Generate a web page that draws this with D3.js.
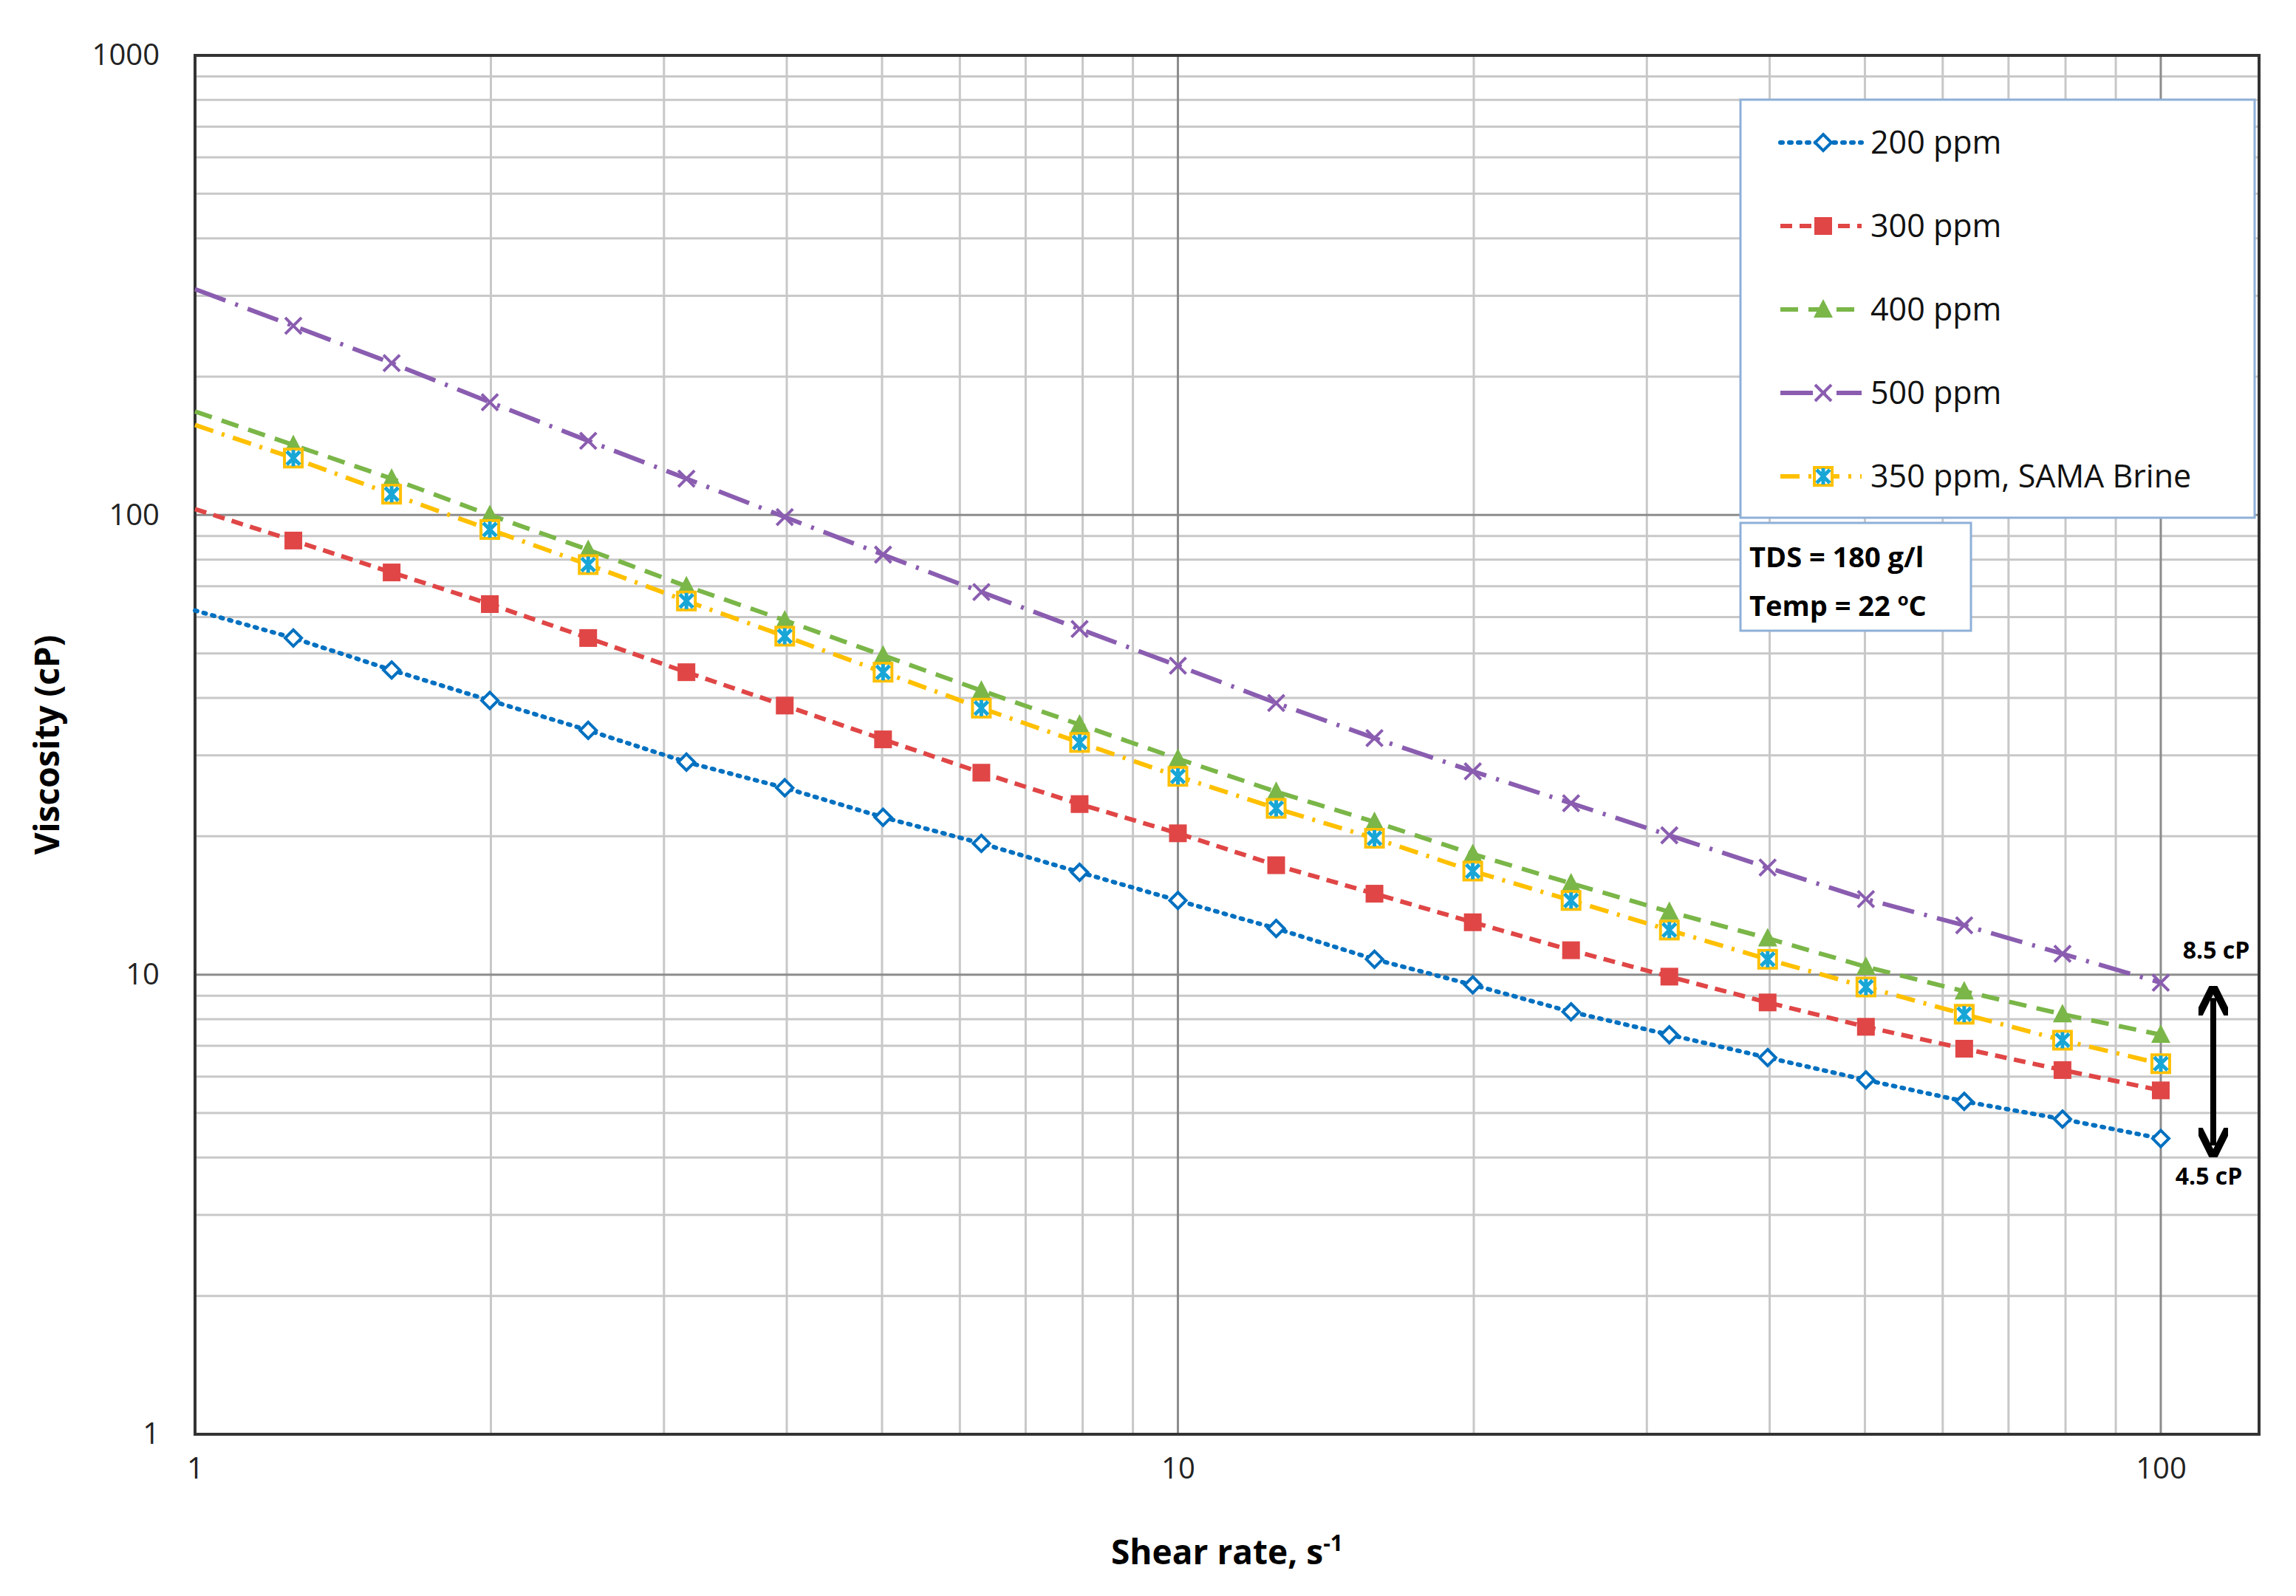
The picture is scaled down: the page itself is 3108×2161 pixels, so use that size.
<!DOCTYPE html>
<html><head><meta charset="utf-8">
<script src="https://cdn.jsdelivr.net/npm/d3@7.9.0/dist/d3.min.js"></script>
<style>body{margin:0;background:#fff}text{font-family:"Open Sans",sans-serif}</style>
</head><body><svg id="chart"></svg>
<script>
const shearRates = d3.range(0, 21).map(k => +Math.pow(10, k / 10).toFixed(3));
const ppm200 = [62, 54, 46, 39.5, 34, 29, 25.5, 22, 19.3, 16.7, 14.5, 12.6, 10.8, 9.5, 8.3, 7.4, 6.6, 5.9, 5.3, 4.85, 4.4];
const ppm300 = [103, 88, 75, 64, 54, 45.5, 38.5, 32.5, 27.5, 23.5, 20.3, 17.3, 15, 13, 11.3, 9.9, 8.7, 7.7, 6.9, 6.2, 5.6];
const ppm400 = [168, 142, 120, 100, 84, 70, 59, 49.5, 41.5, 35, 29.5, 25, 21.5, 18.3, 15.8, 13.7, 12, 10.4, 9.2, 8.2, 7.4];
const ppm500 = [310, 258, 214, 176, 145, 120, 99, 82, 68, 56.5, 47, 39, 32.7, 27.7, 23.6, 20.1, 17.1, 14.6, 12.8, 11.1, 9.6];
const ppm350 = [157, 133, 111, 93, 78, 65, 54.5, 45.5, 38, 32, 27, 23, 19.8, 16.8, 14.5, 12.5, 10.8, 9.4, 8.2, 7.2, 6.4];
const xTicks = [1, 10, 100];
const yTicks = [1, 10, 100, 1000];

const series = [
  {name: '200 ppm', values: ppm200, color: '#0070c0', dash: '3,9', cap: 'round', marker: 'diamond'},
  {name: '300 ppm', values: ppm300, color: '#e04646', dash: '16,10', cap: 'butt', marker: 'square'},
  {name: '400 ppm', values: ppm400, color: '#7ab648', dash: '24,14', cap: 'butt', marker: 'triangle'},
  {name: '500 ppm', values: ppm500, color: '#8a5db0', dash: '44,14,4,14', cap: 'butt', marker: 'x'},
  {name: '350 ppm, SAMA Brine', values: ppm350, color: '#ffc000', dash: '26,12,4,12', cap: 'butt', marker: 'star'}
];

const W = 3108, H = 2161;
const area = {left: 264, right: 3058, top: 75, bottom: 1942};
const svg = d3.select('#chart').attr('width', W).attr('height', H);

const xScale = d3.scaleLog().domain([1, Math.pow(10, 2.1)]).range([area.left, area.right]);
const yScale = d3.scaleLog().domain([1, 1000]).range([area.bottom, area.top]);

// gridlines
const minorX = [], minorY = [];
for (let d = 1; d <= 100; d *= 10) for (let m = 2; m <= 9; m++) { if (d * m < xScale.domain()[1]) minorX.push(d * m); }
for (let d = 1; d < 1000; d *= 10) for (let m = 2; m <= 9; m++) minorY.push(d * m);
const grid = svg.append('g');
grid.selectAll('.mx').data(minorX).join('line')
  .attr('x1', d => xScale(d)).attr('x2', d => xScale(d)).attr('y1', area.top).attr('y2', area.bottom)
  .attr('stroke', '#c8c8c8').attr('stroke-width', 3);
grid.selectAll('.my').data(minorY).join('line')
  .attr('y1', d => yScale(d)).attr('y2', d => yScale(d)).attr('x1', area.left).attr('x2', area.right)
  .attr('stroke', '#c8c8c8').attr('stroke-width', 3);
grid.selectAll('.Mx').data(xTicks).join('line')
  .attr('x1', d => xScale(d)).attr('x2', d => xScale(d)).attr('y1', area.top).attr('y2', area.bottom)
  .attr('stroke', '#8c8c8c').attr('stroke-width', 3);
grid.selectAll('.My').data(yTicks).join('line')
  .attr('y1', d => yScale(d)).attr('y2', d => yScale(d)).attr('x1', area.left).attr('x2', area.right)
  .attr('stroke', '#8c8c8c').attr('stroke-width', 3);
svg.append('rect').attr('x', area.left).attr('y', area.top)
  .attr('width', area.right - area.left).attr('height', area.bottom - area.top)
  .attr('fill', 'none').attr('stroke', '#333').attr('stroke-width', 4);

// axes
const xAxis = svg.append('g').attr('transform', `translate(0,${area.bottom})`)
  .call(d3.axisBottom(xScale).tickValues(xTicks).tickFormat(d3.format('d')).tickSize(0).tickPadding(32));
const yAxis = svg.append('g').attr('transform', `translate(${area.left},0)`)
  .call(d3.axisLeft(yScale).tickValues(yTicks).tickFormat(d3.format('d')).tickSize(0).tickPadding(48));
[xAxis, yAxis].forEach(a => {
  a.select('.domain').remove();
  a.selectAll('text').attr('font-size', 40).attr('fill', '#222').style('font-family', '"Open Sans"');
});

svg.append('text').attr('x', (area.left + area.right) / 2).attr('y', 2118)
  .attr('text-anchor', 'middle').attr('font-size', 46).attr('font-weight', 'bold')
  .html('Shear rate, s<tspan dy="-18" font-size="30">-1</tspan>');
svg.append('text').attr('transform', `translate(80,${(area.top + area.bottom) / 2}) rotate(-90)`)
  .attr('text-anchor', 'middle').attr('font-size', 46).attr('font-weight', 'bold').text('Viscosity (cP)');

function drawMarker(g, type, color, x, y) {
  if (type === 'diamond') g.append('path').attr('d', `M${x},${y-11}L${x+11},${y}L${x},${y+11}L${x-11},${y}Z`)
    .attr('fill', '#fff').attr('stroke', color).attr('stroke-width', 4);
  if (type === 'square') g.append('rect').attr('x', x - 12).attr('y', y - 12).attr('width', 24).attr('height', 24).attr('fill', color);
  if (type === 'triangle') g.append('path').attr('d', `M${x},${y-14}L${x+13},${y+11}L${x-13},${y+11}Z`).attr('fill', color);
  if (type === 'x') g.append('path').attr('d', `M${x-11},${y-11}L${x+11},${y+11}M${x+11},${y-11}L${x-11},${y+11}`)
    .attr('stroke', color).attr('stroke-width', 4);
  if (type === 'star') {
    g.append('rect').attr('x', x - 12).attr('y', y - 12).attr('width', 24).attr('height', 24)
      .attr('fill', '#fff').attr('stroke', '#ffc000').attr('stroke-width', 4);
    g.append('path').attr('d', `M${x-9},${y-9}L${x+9},${y+9}M${x+9},${y-9}L${x-9},${y+9}M${x},${y-11}L${x},${y+11}`)
      .attr('stroke', '#17a6d6').attr('stroke-width', 5);
  }
}

const line = d3.line().x(d => xScale(d[0])).y(d => yScale(d[1]));
series.forEach(s => {
  const pts = shearRates.map((x, i) => [x, s.values[i]]);
  svg.append('path').datum(pts).attr('d', line).attr('fill', 'none')
    .attr('stroke', s.color).attr('stroke-width', 6).attr('stroke-dasharray', s.dash).attr('stroke-linecap', s.cap);
  const g = svg.append('g');
  pts.slice(1).forEach(p => drawMarker(g, s.marker, s.color, xScale(p[0]), yScale(p[1])));
});

// legend
const lg = svg.append('g');
lg.append('rect').attr('x', 2356).attr('y', 135).attr('width', 696).attr('height', 566)
  .attr('fill', '#fff').attr('stroke', '#8eb0d8').attr('stroke-width', 3);
series.forEach((s, i) => {
  const y = 193 + i * 113;
  lg.append('line').attr('x1', 2410).attr('x2', 2520).attr('y1', y).attr('y2', y)
    .attr('stroke', s.color).attr('stroke-width', 6).attr('stroke-dasharray', s.dash).attr('stroke-linecap', s.cap);
  drawMarker(lg, s.marker, s.color, 2468, y);
  lg.append('text').attr('x', 2532).attr('y', y + 15).attr('font-size', 43).attr('fill', '#111').text(s.name);
});

// conditions box
const cb = svg.append('g');
cb.append('rect').attr('x', 2356).attr('y', 708).attr('width', 312).attr('height', 146)
  .attr('fill', '#fff').attr('stroke', '#8eb0d8').attr('stroke-width', 3);
cb.append('text').attr('x', 2368).attr('y', 768).attr('font-size', 38).attr('font-weight', 'bold').text('TDS = 180 g/l');
cb.append('text').attr('x', 2368).attr('y', 834).attr('font-size', 38).attr('font-weight', 'bold')
  .html('Temp = 22 <tspan dy="-14" font-size="24">o</tspan><tspan dy="14">C</tspan>');

// annotation arrow
const ax = 2996;
svg.append('defs').append('marker').attr('id', 'ah').attr('viewBox', '0 0 10 10').attr('refX', 6).attr('refY', 5)
  .attr('markerWidth', 5).attr('markerHeight', 5).attr('orient', 'auto-start-reverse')
  .append('path').attr('d', 'M0,0L10,5L0,10').attr('fill', 'none').attr('stroke', '#000').attr('stroke-width', 2.5);
svg.append('line').attr('x1', ax).attr('x2', ax).attr('y1', yScale(8.9)).attr('y2', yScale(4.25))
  .attr('stroke', '#000').attr('stroke-width', 8).attr('marker-start', 'url(#ah)').attr('marker-end', 'url(#ah)');
svg.append('text').attr('x', 3000).attr('y', 1298).attr('text-anchor', 'middle').attr('font-size', 32).attr('font-weight', 'bold').text('8.5 cP');
svg.append('text').attr('x', 2990).attr('y', 1604).attr('text-anchor', 'middle').attr('font-size', 32).attr('font-weight', 'bold').text('4.5 cP');
</script></body></html>
